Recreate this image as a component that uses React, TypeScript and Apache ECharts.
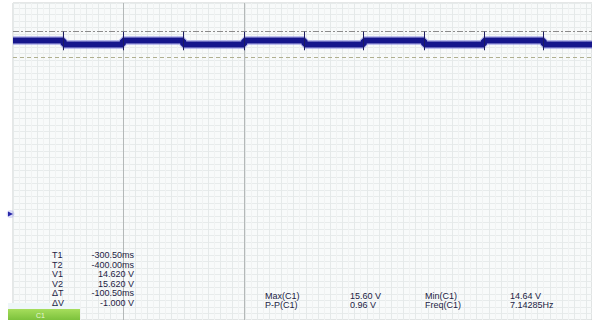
import React, { useEffect, useRef } from "react";
import * as echarts from "echarts";

// ---- data ----
const timeStart = -490; // ms, left edge of the screen
const timeEnd = -15.4; // ms, right edge of the screen
const edgeTimes = [-448.5, -400, -350.5, -300.5, -251, -202.5, -153, -104, -55];
const levelHigh = 15.26; // V
const levelLow = 15.1; // V
const spikeTop = 15.6; // V
const spikeBottom = 14.88; // V
const cursorTimes = [-400, -300.5];
const cursorVolts = [15.62, 14.62];
const cursorLabels = ["T1", "T2", "V1", "V2", "\u0394T", "\u0394V"];
const cursorValues = ["-300.50ms", "-400.00ms", "14.620 V", "15.620 V", "-100.50ms", "-1.000 V"];
const measureNames = ["Max(C1)", "P-P(C1)", "Min(C1)", "Freq(C1)"];
const measureValues = ["15.60 V", "0.96 V", "14.64 V", "7.14285Hz"];

function buildWave(): number[][] {
  const pts: number[][] = [];
  let level = levelHigh;
  pts.push([timeStart, level]);
  for (const t of edgeTimes) {
    pts.push([t, level]);
    level = level === levelHigh ? levelLow : levelHigh;
    pts.push([t, level]);
  }
  pts.push([timeEnd, level]);
  return pts;
}

export default function App() {
  const ref = useRef<HTMLDivElement>(null);
  useEffect(() => {
    if (!ref.current) return;
    const chart = echarts.init(ref.current, undefined, { renderer: "svg" });
    const wave = buildWave();
    const font = "9px 'Liberation Sans', 'DejaVu Sans', sans-serif";
    const txtColor = "#1c1c44";
    const graphics: any[] = [];
    const rowY = (i: number) => 255 + i * 9.6;
    cursorLabels.forEach((l, i) => {
      graphics.push({
        type: "text",
        z: 100,
        style: { text: l, x: 52, y: rowY(i), font, fill: txtColor, textVerticalAlign: "middle", verticalAlign: "middle" },
      });
    });
    cursorValues.forEach((v, i) => {
      graphics.push({
        type: "text",
        z: 100,
        style: {
          text: v, x: 134, y: rowY(i), font, fill: txtColor,
          textAlign: "right", align: "right", textVerticalAlign: "middle", verticalAlign: "middle",
        },
      });
    });
    const mX = [265, 350, 425, 510];
    const mY = [295.5, 304.5];
    [0, 1].forEach((r) => {
      graphics.push({ type: "text", z: 100, style: { text: measureNames[r], x: mX[0], y: mY[r], font, fill: txtColor, textVerticalAlign: "middle", verticalAlign: "middle" } });
      graphics.push({ type: "text", z: 100, style: { text: measureValues[r], x: mX[1], y: mY[r], font, fill: txtColor, textVerticalAlign: "middle", verticalAlign: "middle" } });
      graphics.push({ type: "text", z: 100, style: { text: measureNames[r + 2], x: mX[2], y: mY[r], font, fill: txtColor, textVerticalAlign: "middle", verticalAlign: "middle" } });
      graphics.push({ type: "text", z: 100, style: { text: measureValues[r + 2], x: mX[3], y: mY[r], font, fill: txtColor, textVerticalAlign: "middle", verticalAlign: "middle" } });
    });
    graphics.push({
      type: "rect", z: 90,
      shape: { x: 8, y: 303, width: 72, height: 6 },
      style: { fill: "#eef6f8" },
    });
    graphics.push({
      type: "rect", z: 90,
      shape: { x: 8, y: 309, width: 72, height: 11 },
      style: {
        fill: new echarts.graphic.LinearGradient(0, 0, 0, 1, [
          { offset: 0, color: "#a6dd5c" },
          { offset: 1, color: "#7cc23c" },
        ]),
      },
    });
    graphics.push({
      type: "text", z: 100,
      style: { text: "C1", x: 36, y: 315, font: "7px 'Liberation Sans', sans-serif", fill: "#e8f7d8", textVerticalAlign: "middle", verticalAlign: "middle" },
    });
    graphics.push({
      type: "circle", z: 95,
      shape: { cx: 10.5, cy: 214, r: 4 },
      style: { fill: "rgba(120,120,230,0.25)" },
    });
    graphics.push({
      type: "polygon", z: 96,
      shape: { points: [[8, 211.5], [13, 214], [8, 216.5]] },
      style: { fill: "#2626a8" },
    });

    chart.setOption({
      animation: false,
      backgroundColor: "#ffffff",
      grid: {
        left: 13, right: 0, top: 3, bottom: 0,
        show: true, backgroundColor: "#f8fafa", borderColor: "#cbcfcf", borderWidth: 1,
      },
      xAxis: {
        type: "value", min: timeStart, max: timeEnd, interval: 10,
        axisLine: { show: false }, axisTick: { show: false }, axisLabel: { show: false },
        splitLine: { show: true, lineStyle: { color: "#e5e9e9", width: 1 } },
        minorTick: { show: false, splitNumber: 2 },
        minorSplitLine: { show: true, lineStyle: { color: "#f0f2f2", width: 1 } },
      },
      yAxis: {
        type: "value", min: 4.5, max: 16.7, interval: 0.25,
        axisLine: { show: false }, axisTick: { show: false }, axisLabel: { show: false },
        splitLine: { show: true, lineStyle: { color: "#e7ebeb", width: 1 } },
      },
      series: [
        {
          type: "line", data: wave, symbol: "none", silent: true,
          lineStyle: { color: "rgba(120,120,225,0.45)", width: 9 },
          z: 3,
        },
        {
          type: "line", data: wave, symbol: "none", silent: true,
          lineStyle: { color: "#16168c", width: 6 },
          z: 4,
          markLine: {
            symbol: "none", silent: true, label: { show: false },
            data: [
              { yAxis: cursorVolts[0], lineStyle: { type: [6, 2, 2, 2], color: "#8c8c8c", width: 1 } },
              { yAxis: cursorVolts[1], lineStyle: { type: [4, 3], color: "#b0b090", width: 1 } },
              { xAxis: cursorTimes[0], lineStyle: { type: "solid", color: "#b4b8b8", width: 1 } },
              { xAxis: cursorTimes[1], lineStyle: { type: "solid", color: "#b4b8b8", width: 1 } },
            ],
          },
        },
        {
          type: "lines", coordinateSystem: "cartesian2d", silent: true, z: 5,
          lineStyle: { color: "#1c1c60", width: 1, opacity: 1 },
          data: edgeTimes.map((t) => ({ coords: [[t, spikeBottom], [t, spikeTop]] })),
        },
      ],
      graphic: graphics,
    });
    return () => chart.dispose();
  }, []);
  return <div ref={ref} style={{ position: "absolute", left: 0, top: 0, width: 592, height: 320 }} />;
}
